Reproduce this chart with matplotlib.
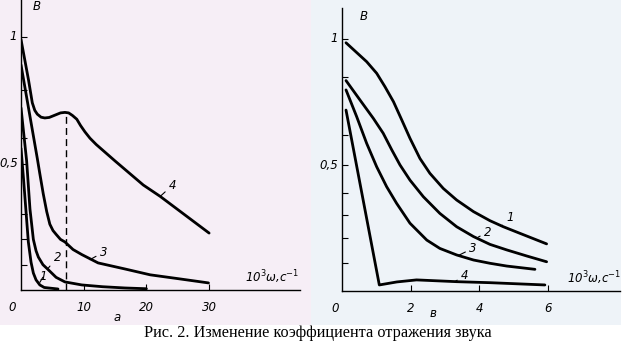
import matplotlib
matplotlib.use("Agg")
import matplotlib.pyplot as plt
from matplotlib.patches import Rectangle

# ---------------- data ----------------
# panel "а": omega in 10^3 s^-1, B
a1_x = [0.0, 0.4, 1.17, 1.6, 1.97, 2.4, 3.0, 3.7, 4.4, 5.9]
a1_y = [0.56, 0.44, 0.19, 0.11, 0.067, 0.04, 0.02, 0.01, 0.008, 0.004]
a2_x = [0.0, 0.9, 1.43, 1.97, 2.4, 2.77, 3.5, 4.4, 5.6, 7.0, 9.7, 13.0, 16.6, 20.0]
a2_y = [0.72, 0.51, 0.32, 0.20, 0.155, 0.13, 0.10, 0.079, 0.05, 0.032, 0.02, 0.013, 0.008, 0.005]
a3_x = [0.0, 2.6, 3.0, 3.55, 4.1, 4.6, 5.1, 5.6, 6.3, 7.0, 8.3, 9.7, 12.3, 16.6, 20.6, 25.0, 29.9]
a3_y = [0.89, 0.52, 0.46, 0.38, 0.31, 0.26, 0.235, 0.22, 0.20, 0.19, 0.16, 0.14, 0.107, 0.083, 0.06, 0.045, 0.028]
a4_x = [0.0, 1.2, 1.8, 2.2, 2.6, 3.2, 3.8, 4.5, 5.5, 6.3, 7.0, 7.6, 8.2, 8.9, 9.5, 10.2, 11.0, 12.0, 15.0, 19.5, 22.2, 30.0]
a4_y = [0.99, 0.83, 0.74, 0.71, 0.695, 0.683, 0.68, 0.682, 0.692, 0.70, 0.702, 0.70, 0.69, 0.675, 0.65, 0.625, 0.60, 0.575, 0.51, 0.415, 0.37, 0.225]
a_peak = 7.2

# panel "в"
b1_x = [0.117, 0.718, 1.01, 1.25, 1.50, 1.74, 1.98, 2.27, 2.56, 2.95, 3.34, 3.83, 4.31, 4.70, 5.18, 5.96]
b1_y = [0.985, 0.910, 0.864, 0.811, 0.751, 0.679, 0.606, 0.526, 0.467, 0.407, 0.361, 0.315, 0.279, 0.255, 0.229, 0.187]
b2_x = [0.117, 0.524, 0.913, 1.20, 1.45, 1.69, 1.98, 2.37, 2.85, 3.34, 3.83, 4.31, 4.80, 5.38, 5.96]
b2_y = [0.835, 0.758, 0.685, 0.626, 0.560, 0.500, 0.440, 0.374, 0.308, 0.255, 0.216, 0.185, 0.163, 0.139, 0.116]
b3_x = [0.117, 0.427, 0.718, 1.01, 1.30, 1.59, 1.98, 2.47, 2.85, 3.34, 3.83, 4.31, 4.80, 5.62]
b3_y = [0.798, 0.692, 0.586, 0.493, 0.414, 0.348, 0.269, 0.202, 0.169, 0.143, 0.123, 0.110, 0.099, 0.086]
b4_x = [0.117, 1.087, 1.6, 2.17, 3.34, 4.31, 5.91]
b4_y = [0.718, 0.024, 0.036, 0.044, 0.037, 0.033, 0.024]

W, H = 635, 361
fig = plt.figure(figsize=(W / 100, H / 100), dpi=100)
fig.patch.set_facecolor("white")

def fx(px):
    return px / W

def fy(py):
    return 1 - py / H

# pale dithered backgrounds (behind the axes)
fig.patches.append(Rectangle((0, fy(325)), fx(311), 325 / H, transform=fig.transFigure,
                             facecolor="#f6eef6", edgecolor="none", zorder=-5))
fig.patches.append(Rectangle((fx(311), fy(325)), fx(621 - 311), 325 / H, transform=fig.transFigure,
                             facecolor="#eef3f8", edgecolor="none", zorder=-5))

ital = dict(family=["Liberation Sans Narrow", "DejaVu Sans"], style="italic", fontsize=8.5)
LW = 2.0

def setup(ax):
    ax.set_facecolor("none")
    for s in ("top", "right"):
        ax.spines[s].set_visible(False)
    for s in ("left", "bottom"):
        ax.spines[s].set_linewidth(1.0)
        ax.spines[s].set_color("black")
    ax.tick_params(direction="in", length=4, width=0.8, labelleft=False, labelbottom=False)

def draw(ax, xs, ys):
    ax.plot(xs, ys, color="black", lw=LW, solid_joinstyle="round", solid_capstyle="round")

lead = dict(arrowstyle="-", color="black", lw=0.8, shrinkA=1, shrinkB=0)

def tag(ax, s, xy, xytext):
    ax.annotate(s, xy=xy, xytext=xytext, ha="center", va="center", arrowprops=lead, **ital)

# ---------------- panel а ----------------
axa = fig.add_axes([fx(21), fy(290), fx(300 - 21), 290 / H])
setup(axa)
axa.set_xlim(0, (300 - 21) / 6.27)
axa.set_ylim(0, 290 / 253)
axa.set_xticks([10, 20, 30])
axa.set_yticks([1, 0.79, 0.6, 0.5, 0.3, 0.2, 0.1])
for xs, ys in ((a1_x, a1_y), (a2_x, a2_y), (a3_x, a3_y), (a4_x, a4_y)):
    draw(axa, xs, ys)
axa.plot([a_peak, a_peak], [0, 0.70], color="black", lw=1.0, ls=(0, (5, 3)))

tag(axa, "1", (3.0, 0.03), (3.6, 0.055))
tag(axa, "2", (4.3, 0.085), (5.8, 0.13))
tag(axa, "3", (11.0, 0.12), (13.2, 0.15))
tag(axa, "4", (22.2, 0.37), (24.2, 0.415))

for t, xv in (("10", 10), ("20", 20), ("30", 30)):
    axa.text(xv, -0.045, t, ha="center", va="top", **ital)
axa.text(-1.4, -0.045, "0", ha="center", va="top", **ital)
axa.text(-0.7, 1.0, "1", ha="right", va="center", **ital)
axa.text(-0.5, 0.5, "0,5", ha="right", va="center", **ital)
axa.text(2.5, 1.12, "B", ha="center", va="center", **ital)
axa.text(15.3, -0.11, "а", ha="center", va="center", **ital)
axa.text(40.0, 0.05, "10$^3$ω,с$^{-1}$", ha="center", va="center", **ital)

# ---------------- panel в ----------------
axb = fig.add_axes([fx(342), fy(291), fx(620 - 342), (291 - 8) / H])
setup(axb)
axb.set_xlim(0, (620 - 342) / 34.33)
axb.set_ylim(0, (291 - 8) / 252)
axb.set_xticks([2, 4, 6])
axb.set_yticks([1, 0.85, 0.62, 0.5, 0.39, 0.3, 0.21, 0.11])
for xs, ys in ((b1_x, b1_y), (b2_x, b2_y), (b3_x, b3_y), (b4_x, b4_y)):
    draw(axb, xs, ys)

tag(axb, "1", (4.64, 0.257), (4.89, 0.29))
tag(axb, "2", (3.97, 0.214), (4.25, 0.234))
tag(axb, "3", (3.39, 0.141), (3.82, 0.17))
tag(axb, "4", (3.29, 0.037), (3.58, 0.063))

for t, xv in (("2", 2), ("4", 4), ("6", 6)):
    axb.text(xv, -0.045, t, ha="center", va="top", **ital)
axb.text(-0.2, -0.045, "0", ha="center", va="top", **ital)
axb.text(-0.12, 1.0, "1", ha="right", va="center", **ital)
axb.text(-0.1, 0.5, "0,5", ha="right", va="center", **ital)
axb.text(0.62, 1.09, "B", ha="center", va="center", **ital)
axb.text(2.65, -0.09, "в", ha="center", va="center", **ital)
axb.text(7.35, 0.05, "10$^3$ω,с$^{-1}$", ha="center", va="center", **ital)

fig.text(fx(318), fy(333), "Рис. 2. Изменение коэффициента отражения звука",
         ha="center", va="center", family="Liberation Serif", fontsize=11.7)

fig.savefig("out.png", dpi=100, facecolor="white")
